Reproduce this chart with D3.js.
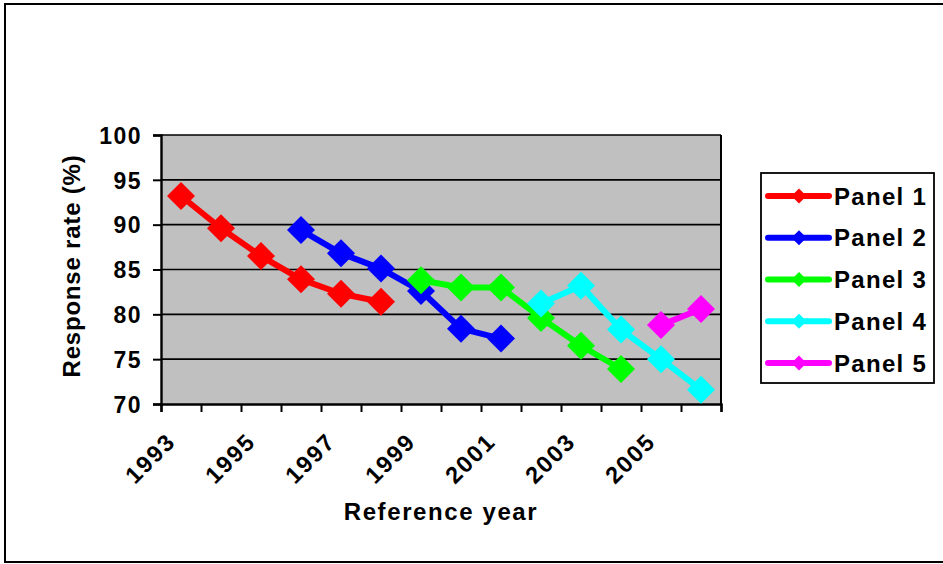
<!DOCTYPE html>
<html>
<head>
<meta charset="utf-8">
<script src="https://cdn.jsdelivr.net/npm/d3@7"></script>
<style>
  html, body { margin: 0; padding: 0; background: #fff; }
  svg { display: block; }
  text { font-family: "Liberation Sans", Arial, sans-serif; font-weight: bold; fill: #000; }
</style>
</head>
<body>
<svg id="chart" width="943" height="564"></svg>
<script>
// Survey response rates by reference year, one series per panel
const years = d3.range(1993, 2007);
const yearLabels = [1993, 1995, 1997, 1999, 2001, 2003, 2005];
const yTicks = [70, 75, 80, 85, 90, 95, 100];

const panel1Years = [1993, 1994, 1995, 1996, 1997, 1998];
const panel1Values = [93.2, 89.6, 86.5, 83.9, 82.3, 81.4];
const panel2Years = [1996, 1997, 1998, 1999, 2000, 2001];
const panel2Values = [89.4, 86.8, 85.1, 82.6, 78.4, 77.3];
const panel3Years = [1999, 2000, 2001, 2002, 2003, 2004];
const panel3Values = [83.8, 83.0, 83.0, 79.6, 76.5, 73.9];
const panel4Years = [2002, 2003, 2004, 2005, 2006];
const panel4Values = [81.2, 83.2, 78.3, 75.0, 71.6];
const panel5Years = [2005, 2006];
const panel5Values = [78.8, 80.6];

const seriesNames = ["Panel 1", "Panel 2", "Panel 3", "Panel 4", "Panel 5"];
const seriesColors = ["#ff0000", "#0000ff", "#00ff00", "#00ffff", "#ff00ff"];

const series = [
  { name: seriesNames[0], color: seriesColors[0], pts: panel1Years.map((y, i) => [y, panel1Values[i]]) },
  { name: seriesNames[1], color: seriesColors[1], pts: panel2Years.map((y, i) => [y, panel2Values[i]]) },
  { name: seriesNames[2], color: seriesColors[2], pts: panel3Years.map((y, i) => [y, panel3Values[i]]) },
  { name: seriesNames[3], color: seriesColors[3], pts: panel4Years.map((y, i) => [y, panel4Values[i]]) },
  { name: seriesNames[4], color: seriesColors[4], pts: panel5Years.map((y, i) => [y, panel5Values[i]]) }
];

const svg = d3.select("#chart");
const plot = { left: 161, right: 721, top: 135, bottom: 404 };

// Category axis: each year occupies one slot, points sit mid-slot
const x = d3.scaleLinear()
  .domain([years[0] - 0.5, years[years.length - 1] + 0.5])
  .range([plot.left, plot.right]);
const y = d3.scaleLinear().domain([70, 100]).range([plot.bottom, plot.top]);

// Outer chart frame
svg.append("rect")
  .attr("x", 5).attr("y", 4).attr("width", 950).attr("height", 558)
  .attr("fill", "#fff").attr("stroke", "#000").attr("stroke-width", 2);

// Plot area background
svg.append("rect")
  .attr("x", plot.left).attr("y", plot.top)
  .attr("width", plot.right - plot.left).attr("height", plot.bottom - plot.top)
  .attr("fill", "#c0c0c0");

// Horizontal gridlines
svg.append("g")
  .selectAll("line")
  .data(yTicks.filter(v => v > 70))
  .join("line")
  .attr("x1", plot.left).attr("x2", plot.right)
  .attr("y1", d => y(d)).attr("y2", d => y(d))
  .attr("stroke", "#000").attr("stroke-width", 1.6);

// Right border of the plot area
svg.append("line")
  .attr("x1", plot.right).attr("x2", plot.right)
  .attr("y1", plot.top).attr("y2", plot.bottom)
  .attr("stroke", "#000").attr("stroke-width", 2);

// Y axis
const yAxis = svg.append("g")
  .attr("transform", `translate(${plot.left},0)`)
  .call(d3.axisLeft(y).tickValues(yTicks).tickSize(8).tickPadding(11));
yAxis.select(".domain").attr("stroke", "#000").attr("stroke-width", 2.4);
yAxis.selectAll(".tick line").attr("stroke", "#000").attr("stroke-width", 2);
yAxis.selectAll(".tick text")
  .style("font-size", "23px").style("font-family", "'Liberation Sans', Arial, sans-serif")
  .style("font-weight", "bold").style("letter-spacing", "1.5px")
  .attr("dy", "0.36em");

// X axis: tick marks on slot boundaries
const xAxis = svg.append("g")
  .attr("transform", `translate(0,${plot.bottom})`)
  .call(d3.axisBottom(x)
    .tickValues(d3.range(years[0] - 0.5, years[years.length - 1] + 1, 1))
    .tickSize(8).tickFormat(""));
xAxis.select(".domain").attr("stroke", "#000").attr("stroke-width", 2.4);
xAxis.selectAll(".tick line").attr("stroke", "#000").attr("stroke-width", 2);

// Rotated year labels, every other year
svg.append("g")
  .selectAll("text")
  .data(yearLabels)
  .join("text")
  .attr("transform", d => `translate(${x(d) - 4},${plot.bottom + 39}) rotate(-45)`)
  .attr("text-anchor", "end")
  .style("font-size", "23.5px").style("letter-spacing", "1.8px")
  .text(d => d);

// Axis titles
svg.append("text")
  .attr("transform", `translate(80,266) rotate(-90)`)
  .attr("text-anchor", "middle")
  .style("font-size", "24px").style("letter-spacing", "0.8px")
  .text("Response rate (%)");

svg.append("text")
  .attr("x", 441).attr("y", 520)
  .attr("text-anchor", "middle")
  .style("font-size", "24px").style("letter-spacing", "1.6px")
  .text("Reference year");

// Series lines and diamond markers
const line = d3.line().x(d => x(d[0])).y(d => y(d[1]));
const diamond = (cx, cy, r) => `M${cx},${cy - r}L${cx + r},${cy}L${cx},${cy + r}L${cx - r},${cy}Z`;

const gSeries = svg.append("g");
series.forEach(s => {
  gSeries.append("path")
    .attr("d", line(s.pts))
    .attr("fill", "none").attr("stroke", s.color)
    .attr("stroke-width", 6).attr("stroke-linejoin", "round");
  gSeries.append("g")
    .selectAll("path")
    .data(s.pts)
    .join("path")
    .attr("d", d => diamond(x(d[0]), y(d[1]), 14))
    .attr("fill", s.color);
});

// Legend
const legend = { x: 761, y: 173, w: 173, h: 210 };
svg.append("rect")
  .attr("x", legend.x).attr("y", legend.y)
  .attr("width", legend.w).attr("height", legend.h)
  .attr("fill", "#fff").attr("stroke", "#000").attr("stroke-width", 1.8);

const legendRow = d3.scaleLinear().domain([0, 4]).range([196, 363]);
const gl = svg.append("g")
  .selectAll("g")
  .data(series)
  .join("g")
  .attr("transform", (d, i) => `translate(0,${legendRow(i)})`);
gl.append("line")
  .attr("x1", 768).attr("x2", 829).attr("y1", 0).attr("y2", 0)
  .attr("stroke", d => d.color).attr("stroke-width", 6).attr("stroke-linecap", "round");
gl.append("path")
  .attr("d", diamond(799, 0, 7.5))
  .attr("fill", d => d.color);
gl.append("text")
  .attr("x", 834).attr("y", 0).attr("dy", "0.36em")
  .style("font-size", "24px").style("letter-spacing", "1.3px")
  .text(d => d.name);
</script>
</body>
</html>
